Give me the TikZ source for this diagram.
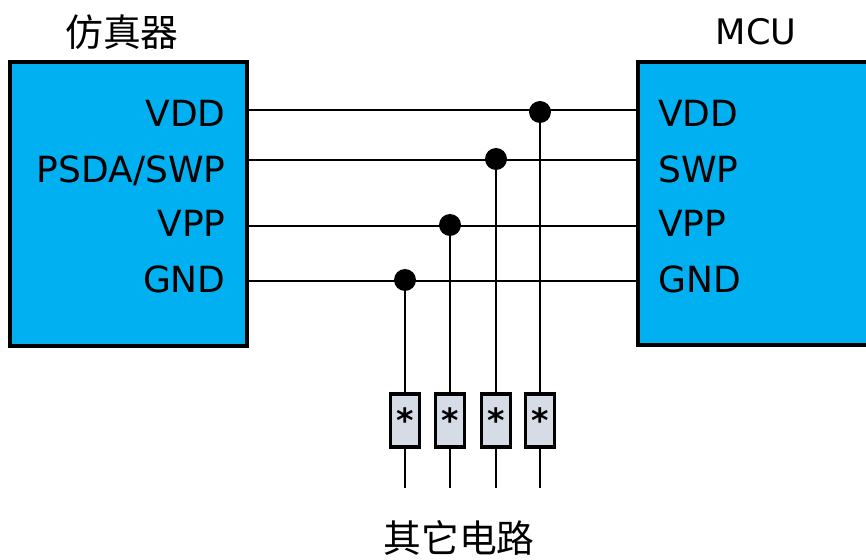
\documentclass[tikz,border=0pt]{standalone}
\usepackage{fontspec}
\setmainfont{DejaVu Sans}
\newfontfamily\cjk{Noto Sans CJK SC}
\definecolor{caixaazul}{HTML}{00B0F0}
\definecolor{resazul}{HTML}{D6DCE5}
\tikzset{
	caixa/.style={draw, line width=1.9pt, fill=caixaazul},
	fio/.style={line width=1.3pt},
	ponto/.style={circle, fill, inner sep=0pt, minimum size=0.44cm},
	resist/.style={draw, line width=2.1pt, fill=resazul, inner sep=0pt, minimum width=0.58cm, minimum height=1.06cm, font=\fontsize{19}{20}\selectfont\bfseries},
	rotulo/.style={inner sep=0pt, font=\fontsize{20.5}{24}\selectfont},
	titulo/.style={font=\fontsize{21.5}{24}\selectfont\cjk}
}
\begin{document}
\begin{tikzpicture}[x=0.02cm, y=-0.02cm, every node/.style={font=\fontsize{20}{24}\selectfont}]
		\useasboundingbox (0,0) rectangle (866,560);
		\clip (0,0) rectangle (866,560);

		% Caixas
		\draw[caixa] (10,62) rectangle (247,346);
		\draw[caixa] (638,62) rectangle (900,345);
		\node[titulo] (tEmu) at (122,32) {仿真器};
		\node (tMCU) at (756,32) {MCU};

		% Pinos do emulador
		\node[rotulo, anchor=base east] (eVDD) at (226,127) {VDD};
		\node[rotulo, anchor=base east] (eSWP) at (226,183) {PSDA/SWP};
		\node[rotulo, anchor=base east] (eVPP) at (226,237) {VPP};
		\node[rotulo, anchor=base east] (eGND) at (226,293) {GND};

		% Pinos do MCU
		\node[rotulo, anchor=base west] (mVDD) at (658,127) {VDD};
		\node[rotulo, anchor=base west] (mSWP) at (658,183) {SWP};
		\node[rotulo, anchor=base west] (mVPP) at (658,237) {VPP};
		\node[rotulo, anchor=base west] (mGND) at (658,293) {GND};

		% Pontos nas bordas
		\coordinate (aVDD) at (247,110);
		\coordinate (aSWP) at (247,160);
		\coordinate (aVPP) at (247,226);
		\coordinate (aGND) at (247,281);
		\coordinate (bVDD) at (638,110);
		\coordinate (bSWP) at (638,160);
		\coordinate (bVPP) at (638,226);
		\coordinate (bGND) at (638,281);

		% Barramento
		\draw[fio] (aVDD) -- (bVDD);
		\draw[fio] (aSWP) -- (bSWP);
		\draw[fio] (aVPP) -- (bVPP);
		\draw[fio] (aGND) -- (bGND);

		% Derivacoes
		\node[ponto] (dVDD) at (540,112) {};
		\node[ponto] (dSWP) at (496,159) {};
		\node[ponto] (dVPP) at (450,225) {};
		\node[ponto] (dGND) at (405,280) {};

		% Resistores
		\node[resist] (rGND) at (405,420.5) {*};
		\node[resist] (rVPP) at (450,420.5) {*};
		\node[resist] (rSWP) at (496,420.5) {*};
		\node[resist] (rVDD) at (540,420.5) {*};
		\coordinate (fGND) at (405,488);
		\coordinate (fVPP) at (450,488);
		\coordinate (fSWP) at (496,488);
		\coordinate (fVDD) at (540,488);

		% Ligacoes
		\draw[fio] (dGND) -- (rGND) -- (fGND);
		\draw[fio] (dVPP) -- (rVPP) -- (fVPP);
		\draw[fio] (dSWP) -- (rSWP) -- (fSWP);
		\draw[fio] (dVDD) -- (rVDD) -- (fVDD);

		\node[titulo] (tOutros) at (459,538) {其它电路};
	\end{tikzpicture}
\end{document}
